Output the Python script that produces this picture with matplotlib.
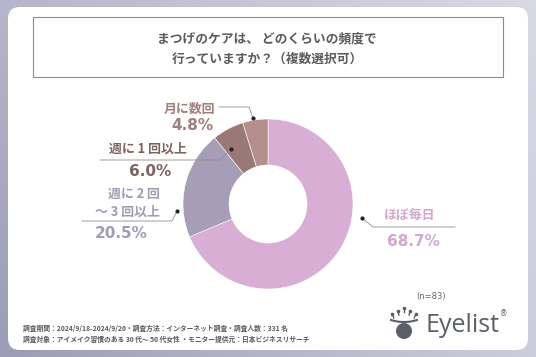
import numpy as np
import matplotlib
matplotlib.use("Agg")
import matplotlib.pyplot as plt
from matplotlib.patches import FancyBboxPatch, Rectangle, Circle

plt.rcParams['font.family'] = ['Noto Sans CJK JP', 'DejaVu Sans']

# data (clockwise from 12 o'clock)
categories = ['ほぼ毎日', '週に 2 回\n～ 3 回以上', '週に 1 回以上', '月に数回']
shares = [68.7, 20.5, 6.0, 4.8]
slice_colors = ['#D8AED4', '#A69DB7', '#9A7876', '#B48F8C']
text_colors = ['#D4A6D0', '#A39BB6', '#7E6363', '#A07F7C']

title = 'まつげのケアは、 どのくらいの頻度で\n行っていますか？（複数選択可）'
footer = ['調査期間：2024/9/18-2024/9/20・調査方法：インターネット調査・調査人数：331 名',
          '調査対象：アイメイク習慣のある 30 代～ 50 代女性 ・モニター提供元：日本ビジネスリサーチ']
n_label = '(n=83)'

W, H = 536, 357


def Y(y):
    # image-space y (top=0) to data y
    return H - y


fig = plt.figure(figsize=(W / 100, H / 100), dpi=100)
ax = fig.add_axes([0, 0, 1, 1])

# background gradient
gx = np.linspace(0, 1, 64)
gy = np.linspace(0, 1, 64)
GX, GY = np.meshgrid(gx, gy)
c_tl = np.array([0xB6, 0xB5, 0xCB]) / 255
c_tr = np.array([0xD9, 0xD9, 0xE4]) / 255
c_bl = np.array([0x9D, 0x9C, 0xB6]) / 255
c_br = np.array([0xCC, 0xCD, 0xDA]) / 255
img = (c_tl * ((1 - GX) * (1 - GY))[..., None] + c_tr * (GX * (1 - GY))[..., None]
       + c_bl * ((1 - GX) * GY)[..., None] + c_br * (GX * GY)[..., None])
ax.imshow(img, extent=[0, W, 0, H], origin='upper', aspect='auto', zorder=0)

# white card
card = FancyBboxPatch((18, Y(340)), 500, 323, boxstyle='round,pad=10,rounding_size=12',
                      facecolor='white', edgecolor='none', zorder=1)
ax.add_patch(card)

# title box
ax.add_patch(Rectangle((33, Y(77)), 470, 60, facecolor='white', edgecolor='#8C8C8C',
                       linewidth=0.8, zorder=2))
ax.text(267, Y(49), title, ha='center', va='center', fontsize=9.2, fontweight='bold',
        color='#5C5C5C', linespacing=1.75, zorder=3)

# donut
cx, cy, r = 268, Y(204), 85
ax.pie(shares, colors=slice_colors, startangle=90, counterclock=False,
       center=(cx, cy), radius=r,
       wedgeprops=dict(width=46, edgecolor='white', linewidth=0.4))

# labels: (text pos, pct pos, ha, leader polyline ending at dot)
lab = [
    dict(tx=410, ty=215, px=413, py=242, ha='center',
         line=[(455, 227), (373, 227), (362, 218)]),
    dict(tx=160, ty=203, px=121, py=234, ha='right',
         line=[(82, 221), (172, 221), (177, 211)]),
    dict(tx=148, ty=149, px=150, py=171, ha='center',
         line=[(100, 160), (220, 160), (231, 149)]),
    dict(tx=215, ty=109, px=213, py=126, ha='right',
         line=[(219, 107), (249, 107), (253, 118)]),
]
for name, val, col, L in zip(categories, shares, text_colors, lab):
    ax.text(L['tx'], Y(L['ty']), name, ha=L['ha'], va='center', fontsize=9.3,
            fontweight='bold', color=col, linespacing=1.35, zorder=5)
    ha_p = 'right' if L['ha'] == 'right' and L['px'] > 200 else 'center'
    ax.text(L['px'], Y(L['py']), f'{val:.1f}%', ha=ha_p, va='center', fontsize=11,
            fontweight='bold', color=col, family='DejaVu Sans', zorder=5)
    xs = [p[0] for p in L['line']]
    ys = [Y(p[1]) for p in L['line']]
    ax.plot(xs, ys, color='#8E8E8E', linewidth=0.6, zorder=4)
    ax.plot(xs[-1], ys[-1], 'o', color='#222222', markersize=2, zorder=6)

# footer
ax.text(23, Y(328), footer[0], ha='left', va='center', fontsize=4.9, fontweight='bold',
        color='#5A5A5A', zorder=5)
ax.text(23, Y(339), footer[1], ha='left', va='center', fontsize=4.9, fontweight='bold',
        color='#5A5A5A', zorder=5)
ax.text(431, Y(297), n_label, ha='center', va='center', fontsize=6, color='#666666',
        family='DejaVu Sans', zorder=5)

# logo
logo_col = '#5B5F66'
ax.add_patch(Circle((404, Y(331)), 8, facecolor=logo_col, edgecolor='none', zorder=5))
bx = np.linspace(391, 417, 40)
ax.plot(bx, Y(320) - 2.0 * (1 - ((bx - 404) / 13) ** 2), color=logo_col, linewidth=1.5,
        zorder=5)
for tx_, ty_ in [(392, 314), (398, 311), (404, 308), (410, 311), (416, 314)]:
    ax.plot([tx_, tx_ + (404 - tx_) * 0.15], [Y(ty_), Y(ty_ + 4)], color=logo_col,
            linewidth=1.0, zorder=5)
    ax.plot(tx_, Y(ty_), 'o', color=logo_col, markersize=1.6, zorder=5)
ax.text(425, Y(326), 'Eyelist', ha='left', va='center', fontsize=18, family='Open Sans',
        color=logo_col, zorder=5)
ax.text(500, Y(314), '®', ha='left', va='center', fontsize=5.5, color=logo_col,
        family='DejaVu Sans', zorder=5)

ax.set_xlim(0, W)
ax.set_ylim(0, H)
ax.set_aspect('auto')
ax.axis('off')

fig.savefig('out.png', dpi=100)
